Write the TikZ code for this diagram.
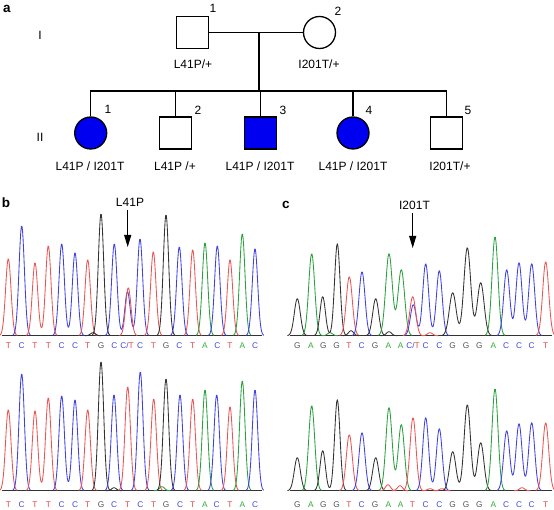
\documentclass[tikz,border=0pt]{standalone}
\usepackage{fontspec}
\setmainfont{Liberation Sans}
\usetikzlibrary{arrows.meta}
\definecolor{tred}{RGB}{236,84,84}
\definecolor{tblue}{RGB}{64,64,228}
\definecolor{tblk}{RGB}{50,50,50}
\definecolor{tgrn}{RGB}{40,160,60}
\definecolor{lred}{RGB}{232,70,70}
\definecolor{lblue}{RGB}{70,70,225}
\definecolor{lblk}{RGB}{85,85,85}
\definecolor{lgrn}{RGB}{50,170,60}
\definecolor{affblue}{RGB}{0,0,240}
\newcommand\pkone[5]{%
  \pgfmathsetmacro\pka{#4-3.3*#3}%
  \pgfmathsetmacro\pkb{#4+3.3*#3}%
  \draw[trace,#1] plot[domain=\pka:\pkb,samples=32]
    (\x,{#2-gp(\x,#4,#5,#3)});}
\newcommand\pktwo[7]{%
  \pgfmathsetmacro\pka{#4-3.3*#3}%
  \pgfmathsetmacro\pkb{#6+3.3*#3}%
  \draw[trace,#1] plot[domain=\pka:\pkb,samples=52]
    (\x,{#2-gp(\x,#4,#5,#3)-gp(\x,#6,#7,#3)});}
\newcommand\pkthree[9]{%
  \pgfmathsetmacro\pka{#4-3.3*#3}%
  \pgfmathsetmacro\pkb{#8+3.3*#3}%
  \draw[trace,#1] plot[domain=\pka:\pkb,samples=72]
    (\x,{#2-gp(\x,#4,#5,#3)-gp(\x,#6,#7,#3)-gp(\x,#8,#9,#3)});}
\begin{document}
\begin{tikzpicture}[x=1pt,y=-1pt,
  declare function={gp(\px,\pc,\ph,\ps)=\ph*exp(-min(0.5*(\px-\pc)*(\px-\pc)/(\ps*\ps),16));},
  trace/.style={line width=0.85pt,line join=round},
  baseln/.style={draw=tblk,line width=1pt},
  sq/.style={draw,line width=1.3pt,rectangle,minimum size=32pt,inner sep=0pt},
  ci/.style={draw,line width=1.3pt,circle,minimum size=32pt,inner sep=0pt},
  aff/.style={fill=affblue},
  pline/.style={line width=1.2pt},
  txt/.style={inner sep=0pt,font=\fontsize{12}{14}\selectfont},
  plab/.style={inner sep=0pt,font=\fontsize{13.5}{15}\selectfont\bfseries},
  basel/.style={inner sep=0pt,font=\fontsize{8.3}{10}\selectfont},
  mutarrow/.style={line width=1pt,-{Triangle[length=12pt,width=7pt]}}]
\useasboundingbox (0,0) rectangle (554,510);
\fill[white] (0,0) rectangle (554,510);
% ---------------- panel a: pedigree ----------------
\node[plab] (la) at (7,9) {a};
\node[txt] (g1) at (40,35) {I};
\node[txt] (g2) at (40,137) {II};
\node[sq] (I1) at (192.5,32.5) {};
\node[ci] (I2) at (319.5,32.5) {};
\node[txt] (n11) at (213,8) {1};
\node[txt] (n12) at (338,11) {2};
\node[txt] (t11) at (193,64) {L41P/+};
\node[txt] (t12) at (319,64) {I201T/+};
\draw[pline] (I1.east) -- (I2.west);
\coordinate (m) at (259,32.5);
\coordinate (sib) at (259,91);
\node[ci,aff] (II1) at (90.7,133) {};
\node[sq] (II2) at (175.5,133) {};
\node[sq,aff] (II3) at (260.5,133) {};
\node[ci,aff] (II4) at (353,133) {};
\node[sq] (II5) at (446.5,133) {};
\draw[pline] (m) -- (sib);
\draw[pline] (II1.north) -- (II1.north |- sib) -- (II5.north |- sib) -- (II5.north);
\draw[pline] (II2.north |- sib) -- (II2.north);
\draw[pline] (II3.north |- sib) -- (II3.north);
\draw[pline] (II4.north |- sib) -- (II4.north);
\node[txt] (n21) at (108,109) {1};
\node[txt] (n22) at (198,110) {2};
\node[txt] (n23) at (283,110) {3};
\node[txt] (n24) at (369,110) {4};
\node[txt] (n25) at (468,110) {5};
\node[txt] (t21) at (90,166) {L41P / I201T};
\node[txt] (t22) at (175,166) {L41P /+};
\node[txt] (t23) at (260,166) {L41P / I201T};
\node[txt] (t24) at (353,166) {L41P / I201T};
\node[txt] (t25) at (450,166) {I201T/+};
% ---------------- panel b ----------------
\node[plab] (lb) at (6,203) {b};
\node[txt] (mb) at (130,202) {L41P};
\coordinate (ab1) at (127.7,210);
\coordinate (ab2) at (127.7,247);
\draw[mutarrow] (ab1) -- (ab2);
% b top
\draw[baseln] (2,335.7) -- (262,335.7);
\pkone{tred}{335.7}{2.7}{8.3}{77}
\pkone{tblue}{335.7}{2.7}{21.7}{110}
\pktwo{tred}{335.7}{2.7}{35}{73}{48.3}{90}
\pktwo{tblue}{335.7}{2.7}{61.7}{92}{75}{83}
\pkone{tred}{335.7}{2.7}{87.7}{76}
\pkone{tblk}{335.7}{2.7}{101}{122}
\pkone{tblk}{335.7}{2.5}{93}{3}
\pkthree{tblue}{335.7}{2.7}{114.3}{92}{127.5}{44}{140}{97}
\pkone{tred}{335.7}{2.7}{128.3}{48}
\pkone{tred}{335.7}{2.7}{153.3}{84}
\pkone{tblk}{335.7}{2.7}{166}{121}
\pkone{tblue}{335.7}{2.7}{179.3}{89}
\pkone{tred}{335.7}{2.7}{192.7}{86}
\pkone{tgrn}{335.7}{2.7}{205}{93}
\pkone{tblue}{335.7}{2.7}{217.3}{90}
\pkone{tred}{335.7}{2.7}{230}{76}
\pkone{tgrn}{335.7}{2.7}{242.3}{102}
\pkone{tblue}{335.7}{2.7}{255}{87}
\foreach \i/\lx/\lt/\lc in {1/8.3/T/lred,2/21.7/C/lblue,3/35/T/lred,4/48.3/T/lred,
  5/61.7/C/lblue,6/75/C/lblue,7/87.7/T/lred,8/101/G/lblk,9/114.3/C/lblue,
  11/140/C/lblue,12/153.3/T/lred,13/166/G/lblk,14/179.3/C/lblue,15/192.7/T/lred,
  16/205/A/lgrn,17/217.3/C/lblue,18/230/T/lred,19/242.3/A/lgrn,20/255/C/lblue}
  {\node[basel,text=\lc] (bt\i) at (\lx,346) {\lt};}
\node[basel] (bt10) at (127,346) {\textcolor{lblue}{C/}\textcolor{lred}{T}};
% b bottom
\draw[baseln] (2,490.7) -- (262,490.7);
\pkone{tred}{490.7}{2.7}{8.3}{81}
\pkone{tblue}{490.7}{2.7}{21.7}{117}
\pktwo{tred}{490.7}{2.7}{35}{80}{48.3}{93}
\pktwo{tblue}{490.7}{2.7}{61.7}{95}{75}{91}
\pkone{tred}{490.7}{2.7}{87.7}{81}
\pkone{tblk}{490.7}{2.7}{101}{129}
\pkone{tblue}{490.7}{2.7}{114}{96}
\pkone{tblk}{490.7}{2.3}{114}{3}
\pkone{tred}{490.7}{2.7}{127.7}{104}
\pkone{tblue}{490.7}{2.7}{140.3}{119}
\pkone{tred}{490.7}{2.7}{153.7}{92}
\pkone{tgrn}{490.7}{2.5}{162}{4}
\pkone{tblk}{490.7}{2.7}{166}{112}
\pkone{tblue}{490.7}{2.7}{180}{96}
\pkone{tred}{490.7}{2.7}{192.7}{92}
\pkone{tgrn}{490.7}{2.7}{205}{101}
\pkone{tblue}{490.7}{2.7}{216.7}{96}
\pkone{tred}{490.7}{2.7}{230}{84}
\pkone{tgrn}{490.7}{2.7}{242.3}{110}
\pkone{tblue}{490.7}{2.7}{255}{101}
\foreach \i/\lx/\lt/\lc in {1/8.3/T/lred,2/21.7/C/lblue,3/35/T/lred,4/48.3/T/lred,
  5/61.7/C/lblue,6/75/C/lblue,7/87.7/T/lred,8/101/G/lblk,9/114/C/lblue,10/127.7/T/lred,
  11/140.3/C/lblue,12/153.7/T/lred,13/166/G/lblk,14/180/C/lblue,15/192.7/T/lred,
  16/205/A/lgrn,17/216.7/C/lblue,18/230/T/lred,19/242.3/A/lgrn,20/255/C/lblue}
  {\node[basel,text=\lc] (bb\i) at (\lx,504.3) {\lt};}
% ---------------- panel c ----------------
\node[plab] (lcc) at (286,205) {c};
\node[txt] (mc) at (414.5,205) {I201T};
\coordinate (ac1) at (412.7,213);
\coordinate (ac2) at (412.7,248);
\draw[mutarrow] (ac1) -- (ac2);
% c top
\draw[baseln] (290,335.7) -- (552,335.7);
\pkone{tblk}{335.7}{3}{297.3}{37}
\pkone{tgrn}{335.7}{3}{311.7}{82}
\pkone{tgrn}{335.7}{2.5}{330}{3}
\pktwo{tblk}{335.7}{2.7}{322.7}{39}{337.3}{92}
\pkone{tred}{335.7}{3}{349.3}{59}
\pkone{tblk}{335.7}{2.5}{351}{5}
\pkone{tblue}{335.7}{3}{362}{64}
\pkone{tblk}{335.7}{3}{375.7}{37}
\pkone{tblk}{335.7}{2.5}{389}{4}
\pktwo{tgrn}{335.7}{3.3}{389}{82}{401.3}{66}
\pkthree{tblue}{335.7}{2.9}{413.3}{31}{425.7}{72}{439.3}{65}
\pkone{tred}{335.7}{3}{412.7}{39}
\pkone{tred}{335.7}{2.5}{430}{3}
\pkthree{tblk}{335.7}{3.4}{452.7}{43}{467.3}{88}{480.7}{53}
\pkone{tgrn}{335.7}{3}{495}{99}
\pkthree{tblue}{335.7}{3}{506.7}{66}{519}{73}{531.7}{72}
\pkone{tred}{335.7}{3}{545.7}{74}
\foreach \i/\lx/\lt/\lc in {1/297.3/G/lblk,2/311/A/lgrn,3/323.3/G/lblk,4/336.7/G/lblk,
  5/349/T/lred,6/361.7/C/lblue,7/375/G/lblk,8/388.3/A/lgrn,9/400.7/A/lgrn,
  11/425.7/C/lblue,12/439.3/C/lblue,13/452.7/G/lblk,14/466/G/lblk,15/479.3/G/lblk,
  16/493.3/A/lgrn,17/506/C/lblue,18/519/C/lblue,19/531.7/C/lblue,20/545.7/T/lred}
  {\node[basel,text=\lc] (ct\i) at (\lx,346) {\lt};}
\node[basel] (ct10) at (413,346) {\textcolor{lblue}{C/}\textcolor{lred}{T}};
% c bottom
\draw[baseln] (290,490.7) -- (552,490.7);
\pkone{tblk}{490.7}{3}{297.3}{33}
\pkone{tgrn}{490.7}{3}{311.7}{85}
\pktwo{tblk}{490.7}{2.7}{322.7}{40}{337.3}{91}
\pkone{tred}{490.7}{3}{349.3}{56}
\pkone{tblue}{490.7}{3}{362}{58}
\pkone{tblk}{490.7}{3}{375.7}{33}
\pkone{tred}{490.7}{2.5}{388}{6}
\pkone{tred}{490.7}{2.5}{400}{5}
\pktwo{tgrn}{490.7}{3.1}{389}{83}{401.3}{66}
\pkone{tred}{490.7}{3}{413}{73}
\pktwo{tblue}{490.7}{2.9}{425.7}{73}{439.3}{62}
\pkone{tred}{490.7}{2.5}{430}{2}
\pkone{tred}{490.7}{2.5}{442}{2}
\pkthree{tblk}{490.7}{3.2}{452.7}{39}{467.3}{86}{480.7}{48}
\pkone{tgrn}{490.7}{3}{495}{102}
\pkthree{tblue}{490.7}{3}{506.7}{60}{519}{67}{531.7}{68}
\pkone{tred}{490.7}{2.5}{522}{3}
\pkone{tred}{490.7}{3}{545.7}{68}
\foreach \i/\lx/\lt/\lc in {1/297.3/G/lblk,2/311/A/lgrn,3/323.3/G/lblk,4/336.7/G/lblk,
  5/349/T/lred,6/361.7/C/lblue,7/375/G/lblk,8/388.3/A/lgrn,9/400.7/A/lgrn,10/412.3/T/lred,
  11/425.7/C/lblue,12/439.3/C/lblue,13/452.7/G/lblk,14/466/G/lblk,15/479.3/G/lblk,
  16/493.3/A/lgrn,17/506/C/lblue,18/519/C/lblue,19/531.7/C/lblue,20/545.7/T/lred}
  {\node[basel,text=\lc] (cb\i) at (\lx,505) {\lt};}
\end{tikzpicture}
\end{document}
